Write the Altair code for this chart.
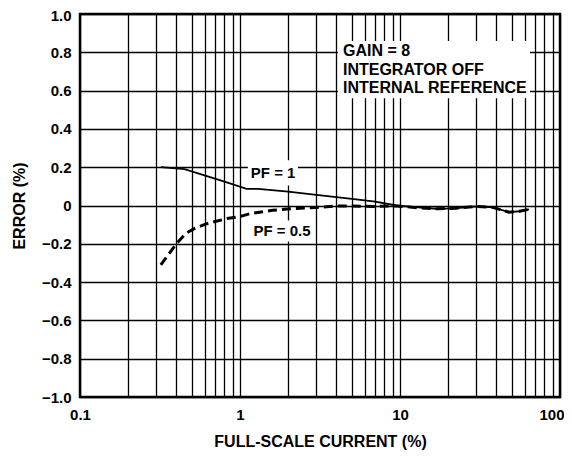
import altair as alt
import pandas as pd

# Series data
pf1_x = [0.32, 0.45, 0.6, 0.8, 1.1, 1.3, 2.0, 3.0, 5.0, 7.0, 9.5, 13, 17, 22, 30, 38, 48, 56, 64]
pf1_y = [0.2, 0.19, 0.157, 0.125, 0.087, 0.087, 0.073, 0.055, 0.035, 0.02, 0.0, -0.01, -0.017, -0.015, -0.005, -0.01, -0.035, -0.03, -0.02]

pf05_x = [0.32, 0.4, 0.46, 0.52, 0.62, 0.83, 1.0, 1.16, 1.6, 2.05, 3.0, 4.2, 6.8, 9.5, 13, 17, 22, 30, 38, 48, 56, 64]
pf05_y = [-0.31, -0.2, -0.145, -0.12, -0.095, -0.068, -0.058, -0.042, -0.025, -0.017, -0.01, -0.002, -0.005, -0.002, -0.012, -0.017, -0.015, -0.005, -0.01, -0.035, -0.03, -0.02]

# Axis values
x_grid = [0.1, 0.2, 0.3, 0.4, 0.5, 0.6, 0.7, 0.8, 0.9,
          1, 2, 3, 4, 5, 6, 7, 8, 9,
          10, 20, 30, 40, 50, 60, 70, 80, 90, 100]
y_ticks = [-1.0, -0.8, -0.6, -0.4, -0.2, 0, 0.2, 0.4, 0.6, 0.8, 1.0]

# Annotations (in data coordinates)
curve_labels = ["PF = 1", "PF = 0.5"]
curve_label_x = [1.61, 1.83]
curve_label_y = [0.168, -0.135]
curve_box_x1 = [1.12, 1.106]
curve_box_x2 = [2.30, 2.86]
curve_box_y1 = [0.236, -0.0785]
curve_box_y2 = [0.105, -0.188]

info_lines = ["GAIN = 8", "INTEGRATOR OFF", "INTERNAL REFERENCE"]
info_x = [4.40, 4.40, 4.40]
info_y = [0.806, 0.709, 0.613]
info_box = {"x1": 4.10, "x2": 64.9, "y1": 0.859, "y2": 0.560}

FONT = "Liberation Sans"

df = pd.concat([
    pd.DataFrame({"x": pf1_x, "y": pf1_y, "series": "PF = 1"}),
    pd.DataFrame({"x": pf05_x, "y": pf05_y, "series": "PF = 0.5"}),
])
lab_df = pd.DataFrame({"label": curve_labels, "x": curve_label_x, "y": curve_label_y,
                       "x1": curve_box_x1, "x2": curve_box_x2, "y1": curve_box_y1, "y2": curve_box_y2})
info_df = pd.DataFrame({"label": info_lines, "x": info_x, "y": info_y})
info_box_df = pd.DataFrame([info_box])

xscale = alt.Scale(type="log", domain=[0.1, 100], nice=False)
yscale = alt.Scale(domain=[-1.0, 1.0], nice=False, zero=False)

xaxis = alt.Axis(values=x_grid, grid=True, ticks=False, domain=False,
                 labelExpr="indexof([0.1,1,10,100], datum.value) >= 0 ? '' + datum.value : ''",
                 labelAlign={"condition": {"test": "datum.value >= 100", "value": "right"}, "value": "center"},
                 labelOffset={"condition": {"test": "datum.value >= 100", "value": 4}, "value": 0},
                 title="FULL-SCALE CURRENT (%)", labelPadding=10, titlePadding=11,
                 labelFlush=False, labelOverlap=False)
yaxis = alt.Axis(values=y_ticks, grid=True, ticks=False, domain=False,
                 labelExpr="datum.value == 0 ? '0' : replace(format(datum.value, '.1f'), '-', '\u2013')",
                 labelOffset={"condition": {"test": "datum.value >= 1", "value": 1}, "value": 0},
                 title="ERROR (%)", labelPadding=9, titlePadding=14, labelOverlap=False)


def X(field):
    return alt.X(field, scale=xscale, axis=xaxis)


def Y(field):
    return alt.Y(field, scale=yscale, axis=yaxis)


base = alt.Chart(df)
line1 = base.transform_filter(alt.datum.series == "PF = 1").mark_line(
    color="black", strokeWidth=1.8).encode(x=X("x:Q"), y=Y("y:Q"))
line2 = base.transform_filter(alt.datum.series == "PF = 0.5").mark_line(
    color="black", strokeWidth=3, strokeDash=[9, 5]).encode(x=X("x:Q"), y=Y("y:Q"))

boxes = alt.Chart(lab_df).mark_rect(fill="white").encode(
    x=X("x1:Q"), x2="x2:Q", y=Y("y1:Q"), y2="y2:Q")
labels = alt.Chart(lab_df).mark_text(font=FONT, fontWeight="bold", fontSize=15,
                                      align="center", baseline="middle", color="black").encode(
    x=X("x:Q"), y=Y("y:Q"), text="label:N")

ibox = alt.Chart(info_box_df).mark_rect(fill="white").encode(
    x=X("x1:Q"), x2="x2:Q", y=Y("y1:Q"), y2="y2:Q")
itext = alt.Chart(info_df).mark_text(font=FONT, fontWeight="bold", fontSize=16,
                                      align="left", baseline="middle", color="black").encode(
    x=X("x:Q"), y=Y("y:Q"), text="label:N")

chart = alt.layer(line1, line2, boxes, labels, ibox, itext).properties(
    width=480, height=383,
    padding={"left": 72, "top": 6, "right": 4, "bottom": 53},
    autosize="none",
    background="white",
).configure_view(stroke="black", strokeWidth=2.5).configure_axis(
    gridColor="black", gridWidth=1.3, gridOpacity=1, labelOverlap=False,
    labelFont=FONT, labelFontWeight="bold", labelFontSize=15, labelColor="black",
    titleFont=FONT, titleFontWeight="bold", titleFontSize=16, titleColor="black",
)

chart.save("out.html", embed_options={"renderer": "svg", "actions": False})
